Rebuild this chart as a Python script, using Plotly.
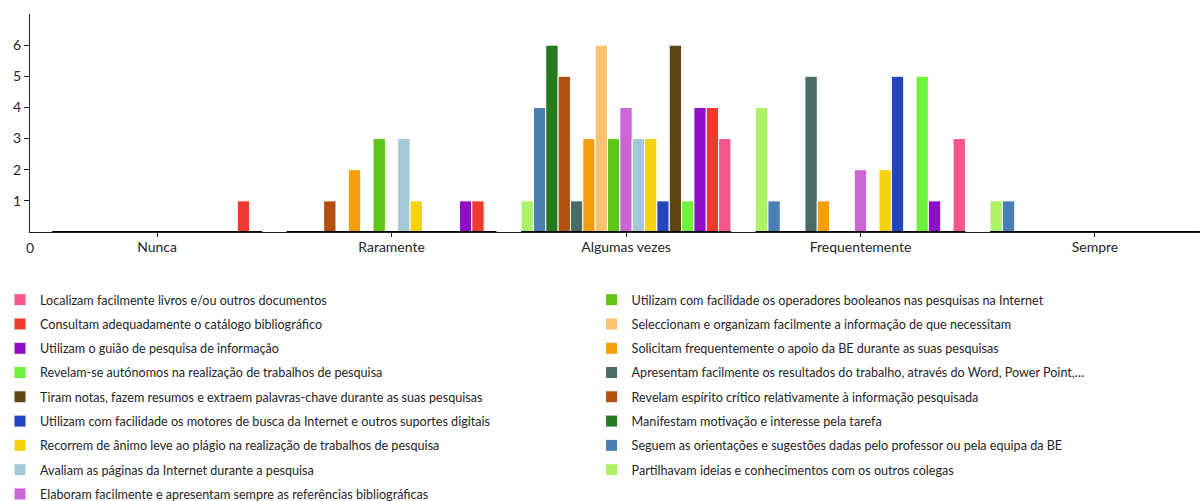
import plotly.graph_objects as go

categories = ["Nunca", "Raramente", "Algumas vezes", "Frequentemente", "Sempre"]

# answer counts per category, one list per statement
partilham = [0, 0, 1, 4, 1]
seguem = [0, 0, 4, 1, 1]
manifestam = [0, 0, 6, 0, 0]
espirito_critico = [0, 1, 5, 0, 0]
apresentam = [0, 0, 1, 5, 0]
solicitam = [0, 2, 3, 1, 0]
seleccionam = [0, 0, 6, 0, 0]
booleanos = [0, 3, 3, 0, 0]
elaboram = [0, 0, 4, 2, 0]
avaliam = [0, 3, 3, 0, 0]
recorrem = [0, 1, 3, 2, 0]
motores = [0, 0, 1, 5, 0]
tiram_notas = [0, 0, 6, 0, 0]
autonomos = [0, 0, 1, 5, 0]
guiao = [0, 1, 4, 1, 0]
consultam = [1, 1, 4, 0, 0]
localizam = [0, 0, 3, 3, 0]

# (label, values, colour, legend column) in bar order, left to right in each group
series = [
    ("Partilhavam ideias e conhecimentos com os outros colegas", partilham, "#abf266", "legend2"),
    ("Seguem as orientações e sugestões dadas pelo professor ou pela equipa da BE", seguem, "#4a7fb4", "legend2"),
    ("Manifestam motivação e interesse pela tarefa", manifestam, "#267a1e", "legend2"),
    ("Revelam espírito crítico relativamente à informação pesquisada", espirito_critico, "#b25012", "legend2"),
    ("Apresentam facilmente os resultados do trabalho, através do Word, Power Point,…", apresentam, "#486b69", "legend2"),
    ("Solicitam frequentemente o apoio da BE durante as suas pesquisas", solicitam, "#f59e0b", "legend2"),
    ("Seleccionam e organizam facilmente a informação de que necessitam", seleccionam, "#f8c46e", "legend2"),
    ("Utilizam com facilidade os operadores booleanos nas pesquisas na Internet", booleanos, "#5cc714", "legend2"),
    ("Elaboram facilmente e apresentam sempre as referências bibliográficas", elaboram, "#cc66d6", "legend"),
    ("Avaliam as páginas da Internet durante a pesquisa", avaliam, "#a3c8d6", "legend"),
    ("Recorrem de ânimo leve ao plágio na realização de trabalhos de pesquisa", recorrem, "#f5d10e", "legend"),
    ("Utilizam com facilidade os motores de busca da Internet e outros suportes digitais", motores, "#2544c0", "legend"),
    ("Tiram notas, fazem resumos e extraem palavras-chave durante as suas pesquisas", tiram_notas, "#5c4512", "legend"),
    ("Revelam-se autónomos na realização de trabalhos de pesquisa", autonomos, "#6ef23a", "legend"),
    ("Utilizam o guião de pesquisa de informação", guiao, "#8e0fc8", "legend"),
    ("Consultam adequadamente o catálogo bibliográfico", consultam, "#ee3a2f", "legend"),
    ("Localizam facilmente livros e/ou outros documentos", localizam, "#f5578a", "legend"),
]

FONT = "Lato"
TEXT = "#262626"
BARGAP = 0.105

fig = go.Figure()
n = len(series)
for i, (name, vals, color, leg) in enumerate(series):
    fig.add_trace(go.Bar(
        x=categories, y=vals, name=name,
        marker=dict(color=color, line=dict(color="white", width=1)),
        legend=leg, legendgroup=f"g{i}", legendrank=n - i,
        hoverinfo="x+y+name",
    ))

# dark band under each group of bars
fig.add_trace(go.Bar(
    x=categories, y=[0.1] * len(categories), base=[-0.07] * len(categories),
    width=[1 - BARGAP] * len(categories), marker=dict(color="#000000", line=dict(width=0)),
    xaxis="x2", showlegend=False, hoverinfo="skip",
))

legend_common = dict(
    orientation="v", traceorder="grouped", tracegroupgap=4.9,
    font=dict(family=FONT, size=12.6, color=TEXT),
    bgcolor="rgba(0,0,0,0)", borderwidth=0,
    xref="container", yref="container", yanchor="top", xanchor="left",
    maxheight=1000,
)

fig.update_layout(
    width=1200, height=501,
    margin=dict(l=30, r=0, t=14, b=269, autoexpand=False),
    paper_bgcolor="white", plot_bgcolor="white",
    barmode="group", bargap=BARGAP, bargroupgap=0,
    font=dict(family=FONT, size=13, color=TEXT),
    xaxis=dict(
        type="category", range=[-0.542, 4.448],
        showline=True, linecolor="#222222", linewidth=1,
        ticks="outside", ticklen=4, tickcolor="#222222",
        ticklabelstandoff=-2,
        showgrid=False, zeroline=False,
        tickfont=dict(family=FONT, size=14, color=TEXT),
    ),
    xaxis2=dict(
        type="category", range=[-0.542, 4.448], overlaying="x",
        showticklabels=False, showgrid=False, zeroline=False, showline=False,
    ),
    yaxis=dict(
        range=[0, 7], tickvals=[1, 2, 3, 4, 5, 6],
        showline=True, linecolor="#222222", linewidth=1,
        ticks="outside", ticklen=5, tickcolor="#222222",
        showgrid=False, zeroline=False,
        tickfont=dict(family=FONT, size=14, color=TEXT),
    ),
    legend=dict(x=0.0, y=1 - 285 / 501, **legend_common),
    legend2=dict(x=0.493, y=1 - 285 / 501, **legend_common),
    annotations=[dict(
        text="0", xref="paper", yref="paper", x=0, y=0,
        xanchor="center", yanchor="top", yshift=-5, showarrow=False,
        font=dict(family=FONT, size=14, color=TEXT),
    )],
)

fig.write_html("out.html")
